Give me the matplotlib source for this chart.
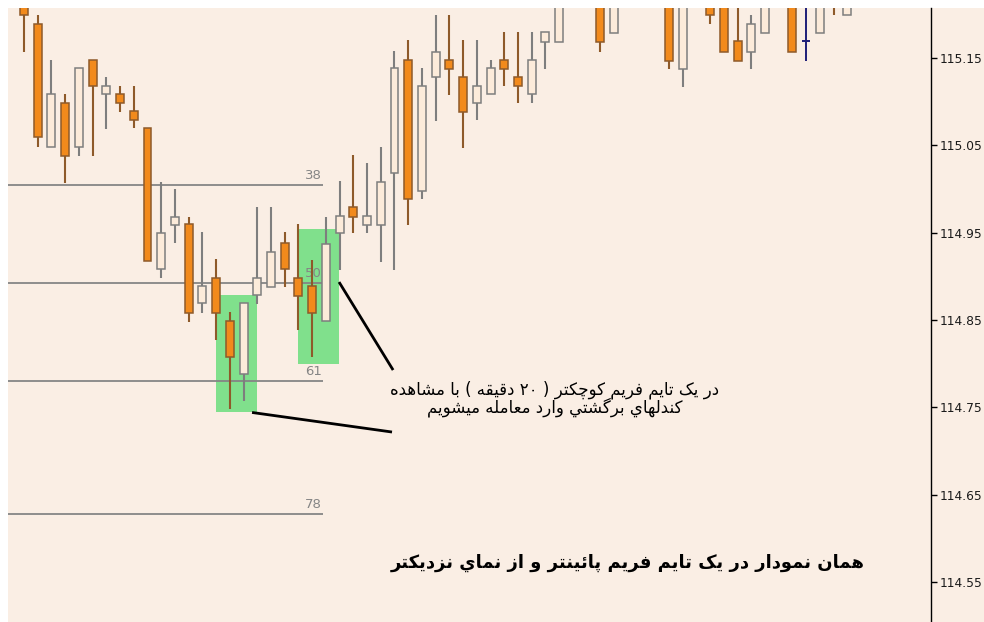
import matplotlib
matplotlib.use("Agg")
import matplotlib.pyplot as plt
from matplotlib.patches import Rectangle

# ---------------- data ----------------
bar = [0, 1, 2, 3, 4, 5, 6, 7, 8, 9, 10, 11, 12, 13, 14, 15, 16, 17, 18, 19,
       20, 21, 22, 23, 24, 25, 26, 27, 28, 29, 30, 31, 32, 33, 34, 35, 36, 37, 38, 39,
       42, 43, 47, 48, 50, 51, 52, 53, 54, 56, 57, 58, 59, 60]
opens = [115.230, 115.189, 115.048, 115.099, 115.048, 115.148, 115.109, 115.109, 115.089, 115.070,
         114.908, 114.959, 114.960, 114.869, 114.898, 114.849, 114.788, 114.879, 114.888, 114.938,
         114.898, 114.889, 114.849, 114.950, 114.979, 114.959, 114.959, 115.018, 115.148, 114.998,
         115.128, 115.148, 115.128, 115.099, 115.109, 115.148, 115.128, 115.109, 115.168, 115.168,
         115.230, 115.179, 115.230, 115.137, 115.230, 115.230, 115.170, 115.157, 115.179, 115.230,
         115.170, 115.179, 115.230, 115.199]
highs = [115.240, 115.199, 115.148, 115.109, 115.139, 115.148, 115.128, 115.118, 115.118, 115.070,
         115.008, 115.000, 114.968, 114.951, 114.920, 114.859, 114.869, 114.979, 114.979, 114.951,
         114.960, 114.919, 114.968, 115.009, 115.039, 115.030, 115.048, 115.158, 115.171, 115.139,
         115.199, 115.199, 115.171, 115.171, 115.148, 115.180, 115.180, 115.180, 115.180, 115.240,
         115.240, 115.240, 115.240, 115.240, 115.240, 115.240, 115.240, 115.199, 115.240, 115.240,
         115.240, 115.240, 115.240, 115.240]
lows = [115.157, 115.048, 115.048, 115.007, 115.038, 115.038, 115.069, 115.088, 115.070, 114.918,
        114.898, 114.938, 114.848, 114.858, 114.827, 114.748, 114.757, 114.868, 114.888, 114.888,
        114.838, 114.808, 114.849, 114.907, 114.950, 114.950, 114.916, 114.907, 114.959, 114.989,
        115.078, 115.108, 115.047, 115.079, 115.109, 115.118, 115.099, 115.099, 115.137, 115.168,
        115.157, 115.179, 115.137, 115.117, 115.189, 115.157, 115.147, 115.137, 115.179, 115.157,
        115.147, 115.179, 115.199, 115.199]
closes = [115.199, 115.060, 115.109, 115.038, 115.139, 115.118, 115.118, 115.099, 115.079, 114.918,
          114.950, 114.968, 114.858, 114.889, 114.858, 114.808, 114.869, 114.898, 114.928, 114.908,
          114.877, 114.858, 114.937, 114.969, 114.968, 114.969, 115.008, 115.139, 114.989, 115.118,
          115.157, 115.137, 115.088, 115.118, 115.139, 115.137, 115.118, 115.148, 115.180, 115.225,
          115.168, 115.230, 115.147, 115.230, 115.199, 115.157, 115.147, 115.189, 115.230, 115.157,
          115.170, 115.230, 115.225, 115.230]

price_ticks = [114.55, 114.65, 114.75, 114.85, 114.95, 115.05, 115.15]

fib_labels = ["38", "50", "61", "78"]
fib_levels = [115.0045, 114.8923, 114.7800, 114.6277]
fib_end_bar = 21.8

# highlighted zones
zone_bar_from = [14.0, 19.95]
zone_bar_to = [16.96, 22.96]
zone_low = [114.7445, 114.7995]
zone_high = [114.8785, 114.9541]

# pointer lines
ptr_bar0 = [22.96, 16.62]
ptr_price0 = [114.8934, 114.7440]
ptr_bar1 = [26.90, 26.82]
ptr_price1 = [114.7926, 114.7216]

note_text = "در یک تایم فریم کوچکتر ( ۲۰ دقیقه ) با مشاهده\nکندلهاي برگشتي وارد معامله ميشويم"
note_bar, note_price = 38.7, 114.7595
caption_text = "همان نمودار در یک تایم فریم پائینتر و از نماي نزدیکتر"
caption_bar, caption_price = 44.0, 114.5715

# ---------------- Arabic-script shaping (presentation forms + visual order) ----------------
DUAL = {'ئ': 0xFE89, 'ب': 0xFE8F, 'ت': 0xFE95, 'ث': 0xFE99, 'ج': 0xFE9D, 'ح': 0xFEA1,
        'خ': 0xFEA5, 'س': 0xFEB1, 'ش': 0xFEB5, 'ص': 0xFEB9, 'ض': 0xFEBD, 'ط': 0xFEC1,
        'ظ': 0xFEC5, 'ع': 0xFEC9, 'غ': 0xFECD, 'ف': 0xFED1, 'ق': 0xFED5, 'ك': 0xFED9,
        'ل': 0xFEDD, 'م': 0xFEE1, 'ن': 0xFEE5, 'ه': 0xFEE9, 'ي': 0xFEF1, 'پ': 0xFB56,
        'چ': 0xFB7A, 'ک': 0xFB8E, 'گ': 0xFB92, 'ی': 0xFBFC}
RIGHT = {'آ': 0xFE81, 'أ': 0xFE83, 'ؤ': 0xFE85, 'إ': 0xFE87, 'ا': 0xFE8D, 'ة': 0xFE93,
         'د': 0xFEA9, 'ذ': 0xFEAB, 'ر': 0xFEAD, 'ز': 0xFEAF, 'و': 0xFEED, 'ى': 0xFEEF,
         'ژ': 0xFB8A}


def shape_line(s):
    out = []
    n = len(s)
    for k, ch in enumerate(s):
        if ch in DUAL or ch in RIGHT:
            prev = s[k - 1] if k > 0 else ''
            nxt = s[k + 1] if k + 1 < n else ''
            jp = prev in DUAL
            jn = ch in DUAL and (nxt in DUAL or nxt in RIGHT)
            base = DUAL.get(ch, RIGHT.get(ch))
            off = 3 if (jp and jn) else 1 if jp else 2 if jn else 0
            out.append(chr(base + off))
        else:
            out.append(ch)
    vis = out[::-1]
    res, run = [], []
    for ch in vis:
        if ch.isdigit():
            run.append(ch)
        else:
            if run:
                res.extend(run[::-1])
                run = []
            res.append({'(': ')', ')': '('}.get(ch, ch))
    if run:
        res.extend(run[::-1])
    return ''.join(res)


def shape(text):
    return "\n".join(shape_line(l) for l in text.split("\n"))


# ---------------- figure ----------------
W, H = 984, 622
peach = '#FAEEE4'
fig = plt.figure(figsize=(W / 100, H / 100), dpi=100, facecolor='white')
fig.add_artist(Rectangle((8 / W, 0), 1, (H - 8) / H, transform=fig.transFigure,
                         facecolor=peach, edgecolor='none', zorder=-10))
ax = fig.add_axes([8 / W, 0, (931 - 8) / W, (H - 8) / H])
ax.set_facecolor(peach)
ax.set_xlim(-1.166, 66.1)
ax.set_ylim(114.504, 115.2073)

for s in ['left', 'top', 'bottom']:
    ax.spines[s].set_visible(False)
ax.spines['right'].set_color('black')
ax.spines['right'].set_linewidth(1.0)
ax.set_xticks([])
ax.yaxis.tick_right()
ax.set_yticks(price_ticks)
ax.set_yticklabels([f"{v:.2f}" for v in price_ticks])
ax.tick_params(axis='y', length=4, width=1, color='black', pad=2.5, labelsize=8.8,
               labelcolor='#1a1a1a')

# zones
for b0, b1, lo, hi in zip(zone_bar_from, zone_bar_to, zone_low, zone_high):
    ax.add_patch(Rectangle((b0, lo), b1 - b0, hi - lo, facecolor='#80E08C',
                           edgecolor='none', zorder=1))

# fib levels
for lab, lev in zip(fib_labels, fib_levels):
    ax.hlines(lev, -1.166, fib_end_bar, color='#858585', lw=1.3, zorder=2)
    ax.text(fib_end_bar - 0.1, lev + 0.004, lab, ha='right', va='bottom',
            color='#858585', fontsize=9.5, zorder=2)

# candles
bw = 0.58
orange, orange_edge = '#F28A1C', '#8E5A2A'
hollow_fill, hollow_edge = '#FCEBDA', '#7E7E7E'
for x, o, h, l, c in zip(bar, opens, highs, lows, closes):
    if c < o:
        ax.vlines(x, l, h, color=orange_edge, lw=1.5, zorder=3)
        ax.add_patch(Rectangle((x - bw / 2, c), bw, o - c, facecolor=orange,
                               edgecolor=orange_edge, lw=1.1, zorder=4))
    elif c > o:
        ax.vlines(x, l, h, color=hollow_edge, lw=1.5, zorder=3)
        ax.add_patch(Rectangle((x - bw / 2, o), bw, c - o, facecolor=hollow_fill,
                               edgecolor=hollow_edge, lw=1.1, zorder=4))
    else:
        ax.vlines(x, l, h, color='#1E1E78', lw=1.4, zorder=3)
        ax.hlines(o, x - bw / 2, x + bw / 2, color='#1E1E78', lw=1.4, zorder=4)

# pointer lines
for b0, p0, b1, p1 in zip(ptr_bar0, ptr_price0, ptr_bar1, ptr_price1):
    ax.plot([b0, b1], [p0, p1], color='black', lw=2.0, zorder=5, solid_capstyle='butt')

ax.text(note_bar, note_price, shape(note_text), ha='center', va='center',
        fontsize=12, color='black', family='DejaVu Sans', linespacing=0.92, zorder=6)
ax.text(caption_bar, caption_price, shape(caption_text), ha='center', va='center',
        fontsize=12.9, fontweight='bold', color='black', family='DejaVu Sans', zorder=6)

fig.savefig("out.png", dpi=100, facecolor='white')
